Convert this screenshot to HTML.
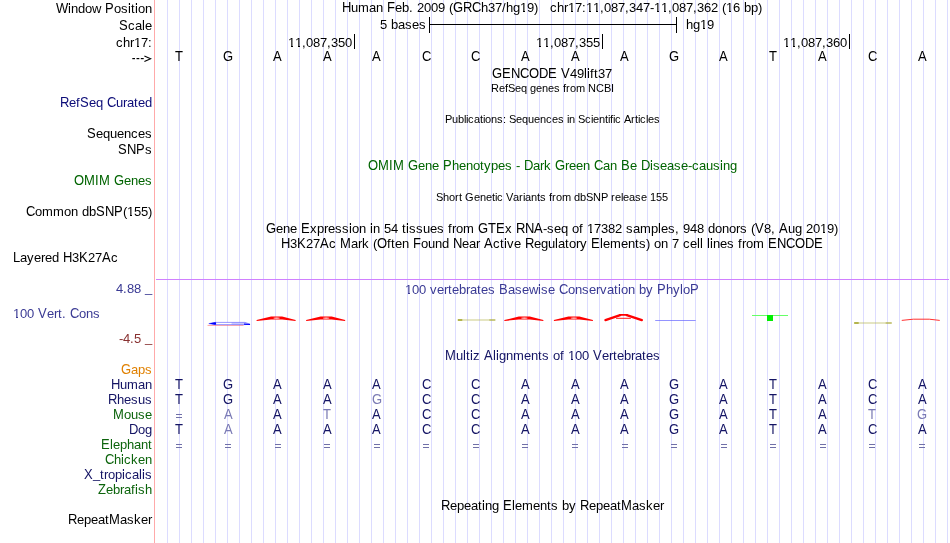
<!DOCTYPE html>
<html><head><meta charset="utf-8"><style>
html,body{margin:0;padding:0;background:#fff;width:950px;height:543px;overflow:hidden}
.t{position:absolute;font-family:"Liberation Sans",sans-serif;white-space:pre;width:0;height:15px}
.t i{position:absolute;top:0;font-style:normal}
.t i.u{font-size:14px;transform:scaleX(0.928571);transform-origin:0 0}
.t i.e{top:-1px;clip-path:inset(0 0 11px 0)}
.t i.o{clip-path:polygon(-2px -2px,12px -2px,12px 11px,5px 11px,5px 16px,3px 16px,3px 11px,-2px 11px)}
</style></head><body>
<div style="position:absolute;left:167px;top:0;width:1px;height:543px;background:#dcdcff"></div><div style="position:absolute;left:179px;top:0;width:1px;height:543px;background:#dcdcff"></div><div style="position:absolute;left:191px;top:0;width:1px;height:543px;background:#dcdcff"></div><div style="position:absolute;left:203px;top:0;width:1px;height:543px;background:#dcdcff"></div><div style="position:absolute;left:215px;top:0;width:1px;height:543px;background:#dcdcff"></div><div style="position:absolute;left:227px;top:0;width:1px;height:543px;background:#dcdcff"></div><div style="position:absolute;left:239px;top:0;width:1px;height:543px;background:#dcdcff"></div><div style="position:absolute;left:251px;top:0;width:1px;height:543px;background:#dcdcff"></div><div style="position:absolute;left:263px;top:0;width:1px;height:543px;background:#dcdcff"></div><div style="position:absolute;left:275px;top:0;width:1px;height:543px;background:#dcdcff"></div><div style="position:absolute;left:287px;top:0;width:1px;height:543px;background:#dcdcff"></div><div style="position:absolute;left:299px;top:0;width:1px;height:543px;background:#dcdcff"></div><div style="position:absolute;left:311px;top:0;width:1px;height:543px;background:#dcdcff"></div><div style="position:absolute;left:323px;top:0;width:1px;height:543px;background:#dcdcff"></div><div style="position:absolute;left:335px;top:0;width:1px;height:543px;background:#dcdcff"></div><div style="position:absolute;left:347px;top:0;width:1px;height:543px;background:#dcdcff"></div><div style="position:absolute;left:359px;top:0;width:1px;height:543px;background:#dcdcff"></div><div style="position:absolute;left:371px;top:0;width:1px;height:543px;background:#dcdcff"></div><div style="position:absolute;left:383px;top:0;width:1px;height:543px;background:#dcdcff"></div><div style="position:absolute;left:395px;top:0;width:1px;height:543px;background:#dcdcff"></div><div style="position:absolute;left:407px;top:0;width:1px;height:543px;background:#dcdcff"></div><div style="position:absolute;left:419px;top:0;width:1px;height:543px;background:#dcdcff"></div><div style="position:absolute;left:431px;top:0;width:1px;height:543px;background:#dcdcff"></div><div style="position:absolute;left:443px;top:0;width:1px;height:543px;background:#dcdcff"></div><div style="position:absolute;left:455px;top:0;width:1px;height:543px;background:#dcdcff"></div><div style="position:absolute;left:467px;top:0;width:1px;height:543px;background:#dcdcff"></div><div style="position:absolute;left:479px;top:0;width:1px;height:543px;background:#dcdcff"></div><div style="position:absolute;left:491px;top:0;width:1px;height:543px;background:#dcdcff"></div><div style="position:absolute;left:503px;top:0;width:1px;height:543px;background:#dcdcff"></div><div style="position:absolute;left:515px;top:0;width:1px;height:543px;background:#dcdcff"></div><div style="position:absolute;left:527px;top:0;width:1px;height:543px;background:#dcdcff"></div><div style="position:absolute;left:539px;top:0;width:1px;height:543px;background:#dcdcff"></div><div style="position:absolute;left:551px;top:0;width:1px;height:543px;background:#dcdcff"></div><div style="position:absolute;left:563px;top:0;width:1px;height:543px;background:#dcdcff"></div><div style="position:absolute;left:575px;top:0;width:1px;height:543px;background:#dcdcff"></div><div style="position:absolute;left:587px;top:0;width:1px;height:543px;background:#dcdcff"></div><div style="position:absolute;left:599px;top:0;width:1px;height:543px;background:#dcdcff"></div><div style="position:absolute;left:611px;top:0;width:1px;height:543px;background:#dcdcff"></div><div style="position:absolute;left:623px;top:0;width:1px;height:543px;background:#dcdcff"></div><div style="position:absolute;left:635px;top:0;width:1px;height:543px;background:#dcdcff"></div><div style="position:absolute;left:647px;top:0;width:1px;height:543px;background:#dcdcff"></div><div style="position:absolute;left:659px;top:0;width:1px;height:543px;background:#dcdcff"></div><div style="position:absolute;left:671px;top:0;width:1px;height:543px;background:#dcdcff"></div><div style="position:absolute;left:683px;top:0;width:1px;height:543px;background:#dcdcff"></div><div style="position:absolute;left:695px;top:0;width:1px;height:543px;background:#dcdcff"></div><div style="position:absolute;left:707px;top:0;width:1px;height:543px;background:#dcdcff"></div><div style="position:absolute;left:719px;top:0;width:1px;height:543px;background:#dcdcff"></div><div style="position:absolute;left:731px;top:0;width:1px;height:543px;background:#dcdcff"></div><div style="position:absolute;left:743px;top:0;width:1px;height:543px;background:#dcdcff"></div><div style="position:absolute;left:755px;top:0;width:1px;height:543px;background:#dcdcff"></div><div style="position:absolute;left:767px;top:0;width:1px;height:543px;background:#dcdcff"></div><div style="position:absolute;left:779px;top:0;width:1px;height:543px;background:#dcdcff"></div><div style="position:absolute;left:791px;top:0;width:1px;height:543px;background:#dcdcff"></div><div style="position:absolute;left:803px;top:0;width:1px;height:543px;background:#dcdcff"></div><div style="position:absolute;left:815px;top:0;width:1px;height:543px;background:#dcdcff"></div><div style="position:absolute;left:827px;top:0;width:1px;height:543px;background:#dcdcff"></div><div style="position:absolute;left:839px;top:0;width:1px;height:543px;background:#dcdcff"></div><div style="position:absolute;left:851px;top:0;width:1px;height:543px;background:#dcdcff"></div><div style="position:absolute;left:863px;top:0;width:1px;height:543px;background:#dcdcff"></div><div style="position:absolute;left:875px;top:0;width:1px;height:543px;background:#dcdcff"></div><div style="position:absolute;left:887px;top:0;width:1px;height:543px;background:#dcdcff"></div><div style="position:absolute;left:899px;top:0;width:1px;height:543px;background:#dcdcff"></div><div style="position:absolute;left:911px;top:0;width:1px;height:543px;background:#dcdcff"></div><div style="position:absolute;left:923px;top:0;width:1px;height:543px;background:#dcdcff"></div><div style="position:absolute;left:935px;top:0;width:1px;height:543px;background:#dcdcff"></div><div style="position:absolute;left:947px;top:0;width:1px;height:543px;background:#dcdcff"></div>
<div style="position:absolute;left:154px;top:0;width:1px;height:543px;background:#ffaaaa"></div>
<div style="position:absolute;left:0;top:0;width:950px;height:543px;will-change:transform">
<svg style="position:absolute;left:0;top:0" width="950" height="543"><line x1="156" y1="279.5" x2="949" y2="279.5" stroke="#d080ff" stroke-width="1"/><g stroke="#000" fill="none"><g stroke-width="1.2"><line x1="132.3" y1="58.6" x2="135" y2="58.6"/><line x1="136.5" y1="58.6" x2="139.3" y2="58.6"/><line x1="140.8" y1="58.6" x2="143.7" y2="58.6"/></g><polyline stroke-width="1.1" points="144.4,56.1 150.6,58.8 144.4,61.6"/></g><polygon points="256.6,320.1 271.1,316.6 282.1,316.6 295.6,320.1 295.6,321 282.1,319.4 271.1,319.4 256.6,321" fill="#f00"/><ellipse cx="276.6" cy="318.1" rx="3.4" ry="0.6" fill="#fff" fill-opacity="0.9"/><polygon points="306.15,320.1 320.65,316.6 331.65,316.6 345.15,320.1 345.15,321 331.65,319.4 320.65,319.4 306.15,321" fill="#f00"/><ellipse cx="326.15" cy="318.1" rx="3.4" ry="0.6" fill="#fff" fill-opacity="0.9"/><polygon points="504.3499999999999,320.1 518.8499999999999,316.6 529.8499999999999,316.6 543.3499999999999,320.1 543.3499999999999,321 529.8499999999999,319.4 518.8499999999999,319.4 504.3499999999999,321" fill="#f00"/><ellipse cx="524.3499999999999" cy="318.1" rx="3.4" ry="0.6" fill="#fff" fill-opacity="0.9"/><polygon points="553.9,320.1 568.4,316.6 579.4,316.6 592.9,320.1 592.9,321 579.4,319.4 568.4,319.4 553.9,321" fill="#f00"/><ellipse cx="573.9" cy="318.1" rx="3.4" ry="0.6" fill="#fff" fill-opacity="0.9"/><g stroke="#f00" stroke-linecap="round"><line x1="605.45" y1="320.1" x2="620.1500000000001" y2="315.1" stroke-width="2.3"/><line x1="626.75" y1="315.1" x2="641.85" y2="320.1" stroke-width="2.3"/><line x1="619.95" y1="314.9" x2="626.95" y2="314.9" stroke-width="1.8"/><line x1="616.45" y1="318.3" x2="630.45" y2="318.3" stroke-width="0.9"/></g><line x1="207.55" y1="325.4" x2="243.55" y2="325.4" stroke="#ff6060" stroke-opacity="0.6" stroke-width="1"/><polygon points="208.85000000000002,323.6 215.05,322.4 245.05,322.4 249.95000000000002,324.2 245.05,324.6 215.05,324.6" fill="#c8c8ff" stroke="#6a6aff" stroke-width="0.7"/><rect x="215.55" y="322.9" width="16" height="1.2" fill="#fff"/><polygon points="208.65,323.6 215.05,322.2 216.05,322.4 216.05,324.4 215.05,324.8" fill="#0000ff"/><polygon points="244.05,323.5 250.05,324.0 250.05,325.0 244.05,324.8" fill="#0000ff"/><line x1="457.79999999999995" y1="320" x2="495.29999999999995" y2="320" stroke="#b4b450" stroke-opacity="0.35" stroke-width="1.8"/><line x1="457.79999999999995" y1="320" x2="462.29999999999995" y2="320" stroke="#a0a020" stroke-opacity="0.8" stroke-width="1.8"/><line x1="489.29999999999995" y1="320" x2="495.29999999999995" y2="320" stroke="#a8a838" stroke-opacity="0.6" stroke-width="1.6"/><line x1="854.1999999999999" y1="323" x2="891.6999999999999" y2="323" stroke="#b4b450" stroke-opacity="0.35" stroke-width="1.8"/><line x1="854.1999999999999" y1="323" x2="858.6999999999999" y2="323" stroke="#a0a020" stroke-opacity="0.8" stroke-width="1.8"/><line x1="885.6999999999999" y1="323" x2="891.6999999999999" y2="323" stroke="#a8a838" stroke-opacity="0.6" stroke-width="1.6"/><line x1="655.2" y1="320.5" x2="695.7" y2="320.5" stroke="#6060ff" stroke-opacity="0.75" stroke-width="0.9"/><line x1="752" y1="315.5" x2="788" y2="315.5" stroke="#66ff66" stroke-width="1"/><rect x="767" y="315" width="6" height="6" fill="#00ee00"/><polyline points="901.75,320.4 913.25,319.2 929.25,319.2 939.75,320.4" fill="none" stroke="#ff3030" stroke-width="1"/></svg>
<div class="t" style="left:56px;top:1px;font-size:13px;line-height:15px;color:#000"><i class="u" style="left:0px">W</i><i style="left:12px">i</i><i class="e" style="left:12px">i</i><i style="left:15px">n</i><i style="left:22px">d</i><i class="e" style="left:22px">d</i><i style="left:29px">o</i><i style="left:36px">w</i><i class="u" style="left:49px">P</i><i style="left:58px">o</i><i style="left:65px">s</i><i style="left:72px">i</i><i class="e" style="left:72px">i</i><i style="left:75px">t</i><i style="left:79px">i</i><i class="e" style="left:79px">i</i><i style="left:82px">o</i><i style="left:89px">n</i></div><div class="t" style="left:119px;top:18px;font-size:13px;line-height:15px;color:#000"><i class="u" style="left:0px">S</i><i style="left:9px">c</i><i style="left:16px">a</i><i style="left:23px">l</i><i class="e" style="left:23px">l</i><i style="left:26px">e</i></div><div class="t" style="left:116px;top:35px;font-size:13px;line-height:15px;color:#000"><i style="left:0px">c</i><i style="left:7px">h</i><i class="e" style="left:7px">h</i><i style="left:14px">r</i><i class="o" style="left:18px">1</i><i style="left:25px">7</i><i style="left:32px">:</i></div><div class="t" style="left:60px;top:95px;font-size:13px;line-height:15px;color:#0c0c78"><i class="u" style="left:0px">R</i><i style="left:9px">e</i><i style="left:16px">f</i><i class="u" style="left:20px">S</i><i style="left:29px">e</i><i style="left:36px">q</i><i class="u" style="left:47px">C</i><i style="left:56px">u</i><i style="left:63px">r</i><i style="left:67px">a</i><i style="left:74px">t</i><i style="left:78px">e</i><i style="left:85px">d</i><i class="e" style="left:85px">d</i></div><div class="t" style="left:87px;top:126px;font-size:13px;line-height:15px;color:#000"><i class="u" style="left:0px">S</i><i style="left:9px">e</i><i style="left:16px">q</i><i style="left:23px">u</i><i style="left:30px">e</i><i style="left:37px">n</i><i style="left:44px">c</i><i style="left:51px">e</i><i style="left:58px">s</i></div><div class="t" style="left:118px;top:142px;font-size:13px;line-height:15px;color:#000"><i class="u" style="left:0px">S</i><i class="u" style="left:9px">N</i><i class="u" style="left:18px">P</i><i style="left:27px">s</i></div><div class="t" style="left:74px;top:173px;font-size:13px;line-height:15px;color:#006400"><i class="u" style="left:0px">O</i><i class="u" style="left:10px">M</i><i class="u" style="left:21px">I</i><i class="u" style="left:25px">M</i><i class="u" style="left:40px">G</i><i style="left:50px">e</i><i style="left:57px">n</i><i style="left:64px">e</i><i style="left:71px">s</i></div><div class="t" style="left:26px;top:204px;font-size:13px;line-height:15px;color:#000"><i class="u" style="left:0px">C</i><i style="left:9px">o</i><i style="left:16px">m</i><i style="left:27px">m</i><i style="left:38px">o</i><i style="left:45px">n</i><i style="left:56px">d</i><i class="e" style="left:56px">d</i><i style="left:63px">b</i><i class="e" style="left:63px">b</i><i class="u" style="left:70px">S</i><i class="u" style="left:79px">N</i><i class="u" style="left:88px">P</i><i style="left:97px">(</i><i class="o" style="left:101px">1</i><i style="left:108px">5</i><i style="left:115px">5</i><i style="left:122px">)</i></div><div class="t" style="left:13px;top:250px;font-size:13px;line-height:15px;color:#000"><i class="u" style="left:0px">L</i><i style="left:7px">a</i><i style="left:14px">y</i><i style="left:21px">e</i><i style="left:28px">r</i><i style="left:32px">e</i><i style="left:39px">d</i><i class="e" style="left:39px">d</i><i class="u" style="left:50px">H</i><i style="left:59px">3</i><i class="u" style="left:66px">K</i><i style="left:75px">2</i><i style="left:82px">7</i><i class="u" style="left:89px">A</i><i style="left:98px">c</i></div><div class="t" style="left:116px;top:281px;font-size:13px;line-height:15px;color:#3a3a94"><i style="left:0px">4</i><i style="left:7px">.</i><i style="left:11px">8</i><i style="left:18px">8</i><i style="left:29px;top:-1px">_</i></div><div class="t" style="left:13px;top:306px;font-size:13px;line-height:15px;color:#3a3a94"><i class="o" style="left:0px">1</i><i style="left:7px">0</i><i style="left:14px">0</i><i class="u" style="left:25px">V</i><i style="left:34px">e</i><i style="left:41px">r</i><i style="left:45px">t</i><i style="left:49px">.</i><i class="u" style="left:57px">C</i><i style="left:66px">o</i><i style="left:73px">n</i><i style="left:80px">s</i></div><div class="t" style="left:119px;top:331px;font-size:13px;line-height:15px;color:#883030"><i style="left:0px">-</i><i style="left:4px">4</i><i style="left:11px">.</i><i style="left:15px">5</i><i style="left:26px;top:-1px">_</i></div><div class="t" style="left:121px;top:362px;font-size:13px;line-height:15px;color:#e08000"><i class="u" style="left:0px">G</i><i style="left:10px">a</i><i style="left:17px">p</i><i style="left:24px">s</i></div><div class="t" style="left:111px;top:377px;font-size:13px;line-height:15px;color:#141464"><i class="u" style="left:0px">H</i><i style="left:9px">u</i><i style="left:16px">m</i><i style="left:27px">a</i><i style="left:34px">n</i></div><div class="t" style="left:108px;top:392px;font-size:13px;line-height:15px;color:#141464"><i class="u" style="left:0px">R</i><i style="left:9px">h</i><i class="e" style="left:9px">h</i><i style="left:16px">e</i><i style="left:23px">s</i><i style="left:30px">u</i><i style="left:37px">s</i></div><div class="t" style="left:113px;top:407px;font-size:13px;line-height:15px;color:#0c640c"><i class="u" style="left:0px">M</i><i style="left:11px">o</i><i style="left:18px">u</i><i style="left:25px">s</i><i style="left:32px">e</i></div><div class="t" style="left:129px;top:422px;font-size:13px;line-height:15px;color:#141464"><i class="u" style="left:0px">D</i><i style="left:9px">o</i><i style="left:16px">g</i></div><div class="t" style="left:101px;top:437px;font-size:13px;line-height:15px;color:#0c640c"><i class="u" style="left:0px">E</i><i style="left:9px">l</i><i class="e" style="left:9px">l</i><i style="left:12px">e</i><i style="left:19px">p</i><i style="left:26px">h</i><i class="e" style="left:26px">h</i><i style="left:33px">a</i><i style="left:40px">n</i><i style="left:47px">t</i></div><div class="t" style="left:105px;top:452px;font-size:13px;line-height:15px;color:#0c640c"><i class="u" style="left:0px">C</i><i style="left:9px">h</i><i class="e" style="left:9px">h</i><i style="left:16px">i</i><i class="e" style="left:16px">i</i><i style="left:19px">c</i><i style="left:26px">k</i><i class="e" style="left:26px">k</i><i style="left:33px">e</i><i style="left:40px">n</i></div><div class="t" style="left:84px;top:467px;font-size:13px;line-height:15px;color:#141464"><i class="u" style="left:0px">X</i><i style="left:9px;top:-1px">_</i><i style="left:16px">t</i><i style="left:20px">r</i><i style="left:24px">o</i><i style="left:31px">p</i><i style="left:38px">i</i><i class="e" style="left:38px">i</i><i style="left:41px">c</i><i style="left:48px">a</i><i style="left:55px">l</i><i class="e" style="left:55px">l</i><i style="left:58px">i</i><i class="e" style="left:58px">i</i><i style="left:61px">s</i></div><div class="t" style="left:98px;top:482px;font-size:13px;line-height:15px;color:#0c640c"><i class="u" style="left:0px">Z</i><i style="left:8px">e</i><i style="left:15px">b</i><i class="e" style="left:15px">b</i><i style="left:22px">r</i><i style="left:26px">a</i><i style="left:33px">f</i><i style="left:37px">i</i><i class="e" style="left:37px">i</i><i style="left:40px">s</i><i style="left:47px">h</i><i class="e" style="left:47px">h</i></div><div class="t" style="left:68px;top:512px;font-size:13px;line-height:15px;color:#000"><i class="u" style="left:0px">R</i><i style="left:9px">e</i><i style="left:16px">p</i><i style="left:23px">e</i><i style="left:30px">a</i><i style="left:37px">t</i><i class="u" style="left:41px">M</i><i style="left:52px">a</i><i style="left:59px">s</i><i style="left:66px">k</i><i class="e" style="left:66px">k</i><i style="left:73px">e</i><i style="left:80px">r</i></div><div class="t" style="left:342px;top:0px;font-size:13px;line-height:15px;color:#000"><i class="u" style="left:0px">H</i><i style="left:9px">u</i><i style="left:16px">m</i><i style="left:27px">a</i><i style="left:34px">n</i><i class="u" style="left:45px">F</i><i style="left:53px">e</i><i style="left:60px">b</i><i class="e" style="left:60px">b</i><i style="left:67px">.</i><i style="left:75px">2</i><i style="left:82px">0</i><i style="left:89px">0</i><i style="left:96px">9</i><i style="left:107px">(</i><i class="u" style="left:111px">G</i><i class="u" style="left:121px">R</i><i class="u" style="left:130px">C</i><i style="left:139px">h</i><i class="e" style="left:139px">h</i><i style="left:146px">3</i><i style="left:153px">7</i><i style="left:160px">/</i><i style="left:164px">h</i><i class="e" style="left:164px">h</i><i style="left:171px">g</i><i class="o" style="left:178px">1</i><i style="left:185px">9</i><i style="left:192px">)</i><i style="left:208px">c</i><i style="left:215px">h</i><i class="e" style="left:215px">h</i><i style="left:222px">r</i><i class="o" style="left:226px">1</i><i style="left:233px">7</i><i style="left:240px">:</i><i class="o" style="left:244px">1</i><i class="o" style="left:251px">1</i><i style="left:258px">,</i><i style="left:262px">0</i><i style="left:269px">8</i><i style="left:276px">7</i><i style="left:283px">,</i><i style="left:287px">3</i><i style="left:294px">4</i><i style="left:301px">7</i><i style="left:308px">-</i><i class="o" style="left:312px">1</i><i class="o" style="left:319px">1</i><i style="left:326px">,</i><i style="left:330px">0</i><i style="left:337px">8</i><i style="left:344px">7</i><i style="left:351px">,</i><i style="left:355px">3</i><i style="left:362px">6</i><i style="left:369px">2</i><i style="left:380px">(</i><i class="o" style="left:384px">1</i><i style="left:391px">6</i><i style="left:402px">b</i><i class="e" style="left:402px">b</i><i style="left:409px">p</i><i style="left:416px">)</i></div><div class="t" style="left:492px;top:66px;font-size:13px;line-height:15px;color:#000"><i class="u" style="left:0px">G</i><i class="u" style="left:10px">E</i><i class="u" style="left:19px">N</i><i class="u" style="left:28px">C</i><i class="u" style="left:37px">O</i><i class="u" style="left:47px">D</i><i class="u" style="left:56px">E</i><i class="u" style="left:69px">V</i><i style="left:78px">4</i><i style="left:85px">9</i><i style="left:92px">l</i><i class="e" style="left:92px">l</i><i style="left:95px">i</i><i class="e" style="left:95px">i</i><i style="left:98px">f</i><i style="left:102px">t</i><i style="left:106px">3</i><i style="left:113px">7</i></div><div class="t" style="left:491px;top:82px;font-size:11px;line-height:13px;color:#000"><i style="left:0px">R</i><i style="left:8px">e</i><i style="left:14px">f</i><i style="left:17px">S</i><i style="left:24px">e</i><i style="left:30px">q</i><i style="left:39px">g</i><i style="left:45px">e</i><i style="left:51px">n</i><i style="left:57px">e</i><i style="left:63px">s</i><i style="left:72px">f</i><i style="left:75px">r</i><i style="left:79px">o</i><i style="left:85px">m</i><i style="left:97px">N</i><i style="left:105px">C</i><i style="left:113px">B</i><i style="left:120px">I</i></div><div class="t" style="left:445px;top:113px;font-size:11px;line-height:13px;color:#000"><i style="left:0px">P</i><i style="left:7px">u</i><i style="left:13px">b</i><i style="left:19px">l</i><i style="left:21px">i</i><i style="left:23px">c</i><i style="left:29px">a</i><i style="left:35px">t</i><i style="left:38px">i</i><i style="left:40px">o</i><i style="left:46px">n</i><i style="left:52px">s</i><i style="left:58px">:</i><i style="left:64px">S</i><i style="left:71px">e</i><i style="left:77px">q</i><i style="left:83px">u</i><i style="left:89px">e</i><i style="left:95px">n</i><i style="left:101px">c</i><i style="left:107px">e</i><i style="left:113px">s</i><i style="left:122px">i</i><i style="left:124px">n</i><i style="left:133px">S</i><i style="left:140px">c</i><i style="left:146px">i</i><i style="left:148px">e</i><i style="left:154px">n</i><i style="left:160px">t</i><i style="left:163px">i</i><i style="left:165px">f</i><i style="left:168px">i</i><i style="left:170px">c</i><i style="left:179px">A</i><i style="left:186px">r</i><i style="left:190px">t</i><i style="left:193px">i</i><i style="left:195px">c</i><i style="left:201px">l</i><i style="left:203px">e</i><i style="left:209px">s</i></div><div class="t" style="left:368px;top:158px;font-size:13px;line-height:15px;color:#006400"><i class="u" style="left:0px">O</i><i class="u" style="left:10px">M</i><i class="u" style="left:21px">I</i><i class="u" style="left:25px">M</i><i class="u" style="left:40px">G</i><i style="left:50px">e</i><i style="left:57px">n</i><i style="left:64px">e</i><i class="u" style="left:75px">P</i><i style="left:84px">h</i><i class="e" style="left:84px">h</i><i style="left:91px">e</i><i style="left:98px">n</i><i style="left:105px">o</i><i style="left:112px">t</i><i style="left:116px">y</i><i style="left:123px">p</i><i style="left:130px">e</i><i style="left:137px">s</i><i style="left:148px">-</i><i class="u" style="left:156px">D</i><i style="left:165px">a</i><i style="left:172px">r</i><i style="left:176px">k</i><i class="e" style="left:176px">k</i><i class="u" style="left:187px">G</i><i style="left:197px">r</i><i style="left:201px">e</i><i style="left:208px">e</i><i style="left:215px">n</i><i class="u" style="left:226px">C</i><i style="left:235px">a</i><i style="left:242px">n</i><i class="u" style="left:253px">B</i><i style="left:262px">e</i><i class="u" style="left:273px">D</i><i style="left:282px">i</i><i class="e" style="left:282px">i</i><i style="left:285px">s</i><i style="left:292px">e</i><i style="left:299px">a</i><i style="left:306px">s</i><i style="left:313px">e</i><i style="left:320px">-</i><i style="left:324px">c</i><i style="left:331px">a</i><i style="left:338px">u</i><i style="left:345px">s</i><i style="left:352px">i</i><i class="e" style="left:352px">i</i><i style="left:355px">n</i><i style="left:362px">g</i></div><div class="t" style="left:436px;top:191px;font-size:11px;line-height:13px;color:#000"><i style="left:0px">S</i><i style="left:7px">h</i><i style="left:13px">o</i><i style="left:19px">r</i><i style="left:23px">t</i><i style="left:29px">G</i><i style="left:38px">e</i><i style="left:44px">n</i><i style="left:50px">e</i><i style="left:56px">t</i><i style="left:59px">i</i><i style="left:61px">c</i><i style="left:70px">V</i><i style="left:77px">a</i><i style="left:83px">r</i><i style="left:87px">i</i><i style="left:89px">a</i><i style="left:95px">n</i><i style="left:101px">t</i><i style="left:104px">s</i><i style="left:113px">f</i><i style="left:116px">r</i><i style="left:120px">o</i><i style="left:126px">m</i><i style="left:138px">d</i><i style="left:144px">b</i><i style="left:150px">S</i><i style="left:157px">N</i><i style="left:165px">P</i><i style="left:175px">r</i><i style="left:179px">e</i><i style="left:185px">l</i><i style="left:187px">e</i><i style="left:193px">a</i><i style="left:199px">s</i><i style="left:205px">e</i><i style="left:214px">1</i><i style="left:220px">5</i><i style="left:226px">5</i></div><div class="t" style="left:266px;top:221px;font-size:13px;line-height:15px;color:#000"><i class="u" style="left:0px">G</i><i style="left:10px">e</i><i style="left:17px">n</i><i style="left:24px">e</i><i class="u" style="left:35px">E</i><i style="left:44px">x</i><i style="left:51px">p</i><i style="left:58px">r</i><i style="left:62px">e</i><i style="left:69px">s</i><i style="left:76px">s</i><i style="left:83px">i</i><i class="e" style="left:83px">i</i><i style="left:86px">o</i><i style="left:93px">n</i><i style="left:104px">i</i><i class="e" style="left:104px">i</i><i style="left:107px">n</i><i style="left:118px">5</i><i style="left:125px">4</i><i style="left:136px">t</i><i style="left:140px">i</i><i class="e" style="left:140px">i</i><i style="left:143px">s</i><i style="left:150px">s</i><i style="left:157px">u</i><i style="left:164px">e</i><i style="left:171px">s</i><i style="left:182px">f</i><i style="left:186px">r</i><i style="left:190px">o</i><i style="left:197px">m</i><i class="u" style="left:212px">G</i><i class="u" style="left:222px">T</i><i class="u" style="left:230px">E</i><i style="left:239px">x</i><i class="u" style="left:250px">R</i><i class="u" style="left:259px">N</i><i class="u" style="left:268px">A</i><i style="left:277px">-</i><i style="left:281px">s</i><i style="left:288px">e</i><i style="left:295px">q</i><i style="left:306px">o</i><i style="left:313px">f</i><i class="o" style="left:321px">1</i><i style="left:328px">7</i><i style="left:335px">3</i><i style="left:342px">8</i><i style="left:349px">2</i><i style="left:360px">s</i><i style="left:367px">a</i><i style="left:374px">m</i><i style="left:385px">p</i><i style="left:392px">l</i><i class="e" style="left:392px">l</i><i style="left:395px">e</i><i style="left:402px">s</i><i style="left:409px">,</i><i style="left:417px">9</i><i style="left:424px">4</i><i style="left:431px">8</i><i style="left:442px">d</i><i class="e" style="left:442px">d</i><i style="left:449px">o</i><i style="left:456px">n</i><i style="left:463px">o</i><i style="left:470px">r</i><i style="left:474px">s</i><i style="left:485px">(</i><i class="u" style="left:489px">V</i><i style="left:498px">8</i><i style="left:505px">,</i><i class="u" style="left:513px">A</i><i style="left:522px">u</i><i style="left:529px">g</i><i style="left:540px">2</i><i style="left:547px">0</i><i class="o" style="left:554px">1</i><i style="left:561px">9</i><i style="left:568px">)</i></div><div class="t" style="left:281px;top:236px;font-size:13px;line-height:15px;color:#000"><i class="u" style="left:0px">H</i><i style="left:9px">3</i><i class="u" style="left:16px">K</i><i style="left:25px">2</i><i style="left:32px">7</i><i class="u" style="left:39px">A</i><i style="left:48px">c</i><i class="u" style="left:59px">M</i><i style="left:70px">a</i><i style="left:77px">r</i><i style="left:81px">k</i><i class="e" style="left:81px">k</i><i style="left:92px">(</i><i class="u" style="left:96px">O</i><i style="left:106px">f</i><i style="left:110px">t</i><i style="left:114px">e</i><i style="left:121px">n</i><i class="u" style="left:132px">F</i><i style="left:140px">o</i><i style="left:147px">u</i><i style="left:154px">n</i><i style="left:161px">d</i><i class="e" style="left:161px">d</i><i class="u" style="left:172px">N</i><i style="left:181px">e</i><i style="left:188px">a</i><i style="left:195px">r</i><i class="u" style="left:203px">A</i><i style="left:212px">c</i><i style="left:219px">t</i><i style="left:223px">i</i><i class="e" style="left:223px">i</i><i style="left:226px">v</i><i style="left:233px">e</i><i class="u" style="left:244px">R</i><i style="left:253px">e</i><i style="left:260px">g</i><i style="left:267px">u</i><i style="left:274px">l</i><i class="e" style="left:274px">l</i><i style="left:277px">a</i><i style="left:284px">t</i><i style="left:288px">o</i><i style="left:295px">r</i><i style="left:299px">y</i><i class="u" style="left:310px">E</i><i style="left:319px">l</i><i class="e" style="left:319px">l</i><i style="left:322px">e</i><i style="left:329px">m</i><i style="left:340px">e</i><i style="left:347px">n</i><i style="left:354px">t</i><i style="left:358px">s</i><i style="left:365px">)</i><i style="left:373px">o</i><i style="left:380px">n</i><i style="left:391px">7</i><i style="left:402px">c</i><i style="left:409px">e</i><i style="left:416px">l</i><i class="e" style="left:416px">l</i><i style="left:419px">l</i><i class="e" style="left:419px">l</i><i style="left:426px">l</i><i class="e" style="left:426px">l</i><i style="left:429px">i</i><i class="e" style="left:429px">i</i><i style="left:432px">n</i><i style="left:439px">e</i><i style="left:446px">s</i><i style="left:457px">f</i><i style="left:461px">r</i><i style="left:465px">o</i><i style="left:472px">m</i><i class="u" style="left:487px">E</i><i class="u" style="left:496px">N</i><i class="u" style="left:505px">C</i><i class="u" style="left:514px">O</i><i class="u" style="left:524px">D</i><i class="u" style="left:533px">E</i></div><div class="t" style="left:405px;top:282px;font-size:13px;line-height:15px;color:#3a3a94"><i class="o" style="left:0px">1</i><i style="left:7px">0</i><i style="left:14px">0</i><i style="left:25px">v</i><i style="left:32px">e</i><i style="left:39px">r</i><i style="left:43px">t</i><i style="left:47px">e</i><i style="left:54px">b</i><i class="e" style="left:54px">b</i><i style="left:61px">r</i><i style="left:65px">a</i><i style="left:72px">t</i><i style="left:76px">e</i><i style="left:83px">s</i><i class="u" style="left:94px">B</i><i style="left:103px">a</i><i style="left:110px">s</i><i style="left:117px">e</i><i style="left:124px">w</i><i style="left:133px">i</i><i class="e" style="left:133px">i</i><i style="left:136px">s</i><i style="left:143px">e</i><i class="u" style="left:154px">C</i><i style="left:163px">o</i><i style="left:170px">n</i><i style="left:177px">s</i><i style="left:184px">e</i><i style="left:191px">r</i><i style="left:195px">v</i><i style="left:202px">a</i><i style="left:209px">t</i><i style="left:213px">i</i><i class="e" style="left:213px">i</i><i style="left:216px">o</i><i style="left:223px">n</i><i style="left:234px">b</i><i class="e" style="left:234px">b</i><i style="left:241px">y</i><i class="u" style="left:252px">P</i><i style="left:261px">h</i><i class="e" style="left:261px">h</i><i style="left:268px">y</i><i style="left:275px">l</i><i class="e" style="left:275px">l</i><i style="left:278px">o</i><i class="u" style="left:285px">P</i></div><div class="t" style="left:445px;top:348px;font-size:13px;line-height:15px;color:#141464"><i class="u" style="left:0px">M</i><i style="left:11px">u</i><i style="left:18px">l</i><i class="e" style="left:18px">l</i><i style="left:21px">t</i><i style="left:25px">i</i><i class="e" style="left:25px">i</i><i style="left:28px">z</i><i class="u" style="left:39px">A</i><i style="left:48px">l</i><i class="e" style="left:48px">l</i><i style="left:51px">i</i><i class="e" style="left:51px">i</i><i style="left:54px">g</i><i style="left:61px">n</i><i style="left:68px">m</i><i style="left:79px">e</i><i style="left:86px">n</i><i style="left:93px">t</i><i style="left:97px">s</i><i style="left:108px">o</i><i style="left:115px">f</i><i class="o" style="left:123px">1</i><i style="left:130px">0</i><i style="left:137px">0</i><i class="u" style="left:148px">V</i><i style="left:157px">e</i><i style="left:164px">r</i><i style="left:168px">t</i><i style="left:172px">e</i><i style="left:179px">b</i><i class="e" style="left:179px">b</i><i style="left:186px">r</i><i style="left:190px">a</i><i style="left:197px">t</i><i style="left:201px">e</i><i style="left:208px">s</i></div><div class="t" style="left:441px;top:498px;font-size:13px;line-height:15px;color:#000"><i class="u" style="left:0px">R</i><i style="left:9px">e</i><i style="left:16px">p</i><i style="left:23px">e</i><i style="left:30px">a</i><i style="left:37px">t</i><i style="left:41px">i</i><i class="e" style="left:41px">i</i><i style="left:44px">n</i><i style="left:51px">g</i><i class="u" style="left:62px">E</i><i style="left:71px">l</i><i class="e" style="left:71px">l</i><i style="left:74px">e</i><i style="left:81px">m</i><i style="left:92px">e</i><i style="left:99px">n</i><i style="left:106px">t</i><i style="left:110px">s</i><i style="left:121px">b</i><i class="e" style="left:121px">b</i><i style="left:128px">y</i><i class="u" style="left:139px">R</i><i style="left:148px">e</i><i style="left:155px">p</i><i style="left:162px">e</i><i style="left:169px">a</i><i style="left:176px">t</i><i class="u" style="left:180px">M</i><i style="left:191px">a</i><i style="left:198px">s</i><i style="left:205px">k</i><i class="e" style="left:205px">k</i><i style="left:212px">e</i><i style="left:219px">r</i></div><div class="t" style="left:380px;top:17px;font-size:13px;line-height:15px;color:#000"><i style="left:0px">5</i><i style="left:11px">b</i><i class="e" style="left:11px">b</i><i style="left:18px">a</i><i style="left:25px">s</i><i style="left:32px">e</i><i style="left:39px">s</i></div><div class="t" style="left:686px;top:17px;font-size:13px;line-height:15px;color:#000"><i style="left:0px">h</i><i class="e" style="left:0px">h</i><i style="left:7px">g</i><i class="o" style="left:14px">1</i><i style="left:21px">9</i></div><div style="position:absolute;left:429px;top:17px;width:1px;height:16px;background:#000"></div><div style="position:absolute;left:676px;top:17px;width:1px;height:16px;background:#000"></div><div style="position:absolute;left:429px;top:24px;width:248px;height:1px;background:#000"></div><div class="t" style="left:288px;top:35px;font-size:13px;line-height:15px;color:#000"><i class="o" style="left:0px">1</i><i class="o" style="left:7px">1</i><i style="left:14px">,</i><i style="left:18px">0</i><i style="left:25px">8</i><i style="left:32px">7</i><i style="left:39px">,</i><i style="left:43px">3</i><i style="left:50px">5</i><i style="left:57px">0</i></div><div style="position:absolute;left:354px;top:34px;width:1px;height:15px;background:#000"></div><div class="t" style="left:536px;top:35px;font-size:13px;line-height:15px;color:#000"><i class="o" style="left:0px">1</i><i class="o" style="left:7px">1</i><i style="left:14px">,</i><i style="left:18px">0</i><i style="left:25px">8</i><i style="left:32px">7</i><i style="left:39px">,</i><i style="left:43px">3</i><i style="left:50px">5</i><i style="left:57px">5</i></div><div style="position:absolute;left:602px;top:34px;width:1px;height:15px;background:#000"></div><div class="t" style="left:783px;top:35px;font-size:13px;line-height:15px;color:#000"><i class="o" style="left:0px">1</i><i class="o" style="left:7px">1</i><i style="left:14px">,</i><i style="left:18px">0</i><i style="left:25px">8</i><i style="left:32px">7</i><i style="left:39px">,</i><i style="left:43px">3</i><i style="left:50px">6</i><i style="left:57px">0</i></div><div style="position:absolute;left:849px;top:34px;width:1px;height:15px;background:#000"></div><div class="t" style="left:175px;top:49px;font-size:13px;line-height:15px;color:#000"><i class="u" style="left:0px">T</i></div><div class="t" style="left:223px;top:49px;font-size:13px;line-height:15px;color:#000"><i class="u" style="left:0px">G</i></div><div class="t" style="left:273px;top:49px;font-size:13px;line-height:15px;color:#000"><i class="u" style="left:0px">A</i></div><div class="t" style="left:323px;top:49px;font-size:13px;line-height:15px;color:#000"><i class="u" style="left:0px">A</i></div><div class="t" style="left:372px;top:49px;font-size:13px;line-height:15px;color:#000"><i class="u" style="left:0px">A</i></div><div class="t" style="left:422px;top:49px;font-size:13px;line-height:15px;color:#000"><i class="u" style="left:0px">C</i></div><div class="t" style="left:471px;top:49px;font-size:13px;line-height:15px;color:#000"><i class="u" style="left:0px">C</i></div><div class="t" style="left:521px;top:49px;font-size:13px;line-height:15px;color:#000"><i class="u" style="left:0px">A</i></div><div class="t" style="left:571px;top:49px;font-size:13px;line-height:15px;color:#000"><i class="u" style="left:0px">A</i></div><div class="t" style="left:620px;top:49px;font-size:13px;line-height:15px;color:#000"><i class="u" style="left:0px">A</i></div><div class="t" style="left:669px;top:49px;font-size:13px;line-height:15px;color:#000"><i class="u" style="left:0px">G</i></div><div class="t" style="left:719px;top:49px;font-size:13px;line-height:15px;color:#000"><i class="u" style="left:0px">A</i></div><div class="t" style="left:769px;top:49px;font-size:13px;line-height:15px;color:#000"><i class="u" style="left:0px">T</i></div><div class="t" style="left:818px;top:49px;font-size:13px;line-height:15px;color:#000"><i class="u" style="left:0px">A</i></div><div class="t" style="left:868px;top:49px;font-size:13px;line-height:15px;color:#000"><i class="u" style="left:0px">C</i></div><div class="t" style="left:918px;top:49px;font-size:13px;line-height:15px;color:#000"><i class="u" style="left:0px">A</i></div><div class="t" style="left:175px;top:377px;font-size:13px;line-height:15px;color:#141464"><i class="u" style="left:0px">T</i></div><div class="t" style="left:223px;top:377px;font-size:13px;line-height:15px;color:#141464"><i class="u" style="left:0px">G</i></div><div class="t" style="left:273px;top:377px;font-size:13px;line-height:15px;color:#141464"><i class="u" style="left:0px">A</i></div><div class="t" style="left:323px;top:377px;font-size:13px;line-height:15px;color:#141464"><i class="u" style="left:0px">A</i></div><div class="t" style="left:372px;top:377px;font-size:13px;line-height:15px;color:#141464"><i class="u" style="left:0px">A</i></div><div class="t" style="left:422px;top:377px;font-size:13px;line-height:15px;color:#141464"><i class="u" style="left:0px">C</i></div><div class="t" style="left:471px;top:377px;font-size:13px;line-height:15px;color:#141464"><i class="u" style="left:0px">C</i></div><div class="t" style="left:521px;top:377px;font-size:13px;line-height:15px;color:#141464"><i class="u" style="left:0px">A</i></div><div class="t" style="left:571px;top:377px;font-size:13px;line-height:15px;color:#141464"><i class="u" style="left:0px">A</i></div><div class="t" style="left:620px;top:377px;font-size:13px;line-height:15px;color:#141464"><i class="u" style="left:0px">A</i></div><div class="t" style="left:669px;top:377px;font-size:13px;line-height:15px;color:#141464"><i class="u" style="left:0px">G</i></div><div class="t" style="left:719px;top:377px;font-size:13px;line-height:15px;color:#141464"><i class="u" style="left:0px">A</i></div><div class="t" style="left:769px;top:377px;font-size:13px;line-height:15px;color:#141464"><i class="u" style="left:0px">T</i></div><div class="t" style="left:818px;top:377px;font-size:13px;line-height:15px;color:#141464"><i class="u" style="left:0px">A</i></div><div class="t" style="left:868px;top:377px;font-size:13px;line-height:15px;color:#141464"><i class="u" style="left:0px">C</i></div><div class="t" style="left:918px;top:377px;font-size:13px;line-height:15px;color:#141464"><i class="u" style="left:0px">A</i></div><div class="t" style="left:175px;top:392px;font-size:13px;line-height:15px;color:#141464"><i class="u" style="left:0px">T</i></div><div class="t" style="left:223px;top:392px;font-size:13px;line-height:15px;color:#141464"><i class="u" style="left:0px">G</i></div><div class="t" style="left:273px;top:392px;font-size:13px;line-height:15px;color:#141464"><i class="u" style="left:0px">A</i></div><div class="t" style="left:323px;top:392px;font-size:13px;line-height:15px;color:#141464"><i class="u" style="left:0px">A</i></div><div class="t" style="left:372px;top:392px;font-size:13px;line-height:15px;color:#7a7ab4"><i class="u" style="left:0px">G</i></div><div class="t" style="left:422px;top:392px;font-size:13px;line-height:15px;color:#141464"><i class="u" style="left:0px">C</i></div><div class="t" style="left:471px;top:392px;font-size:13px;line-height:15px;color:#141464"><i class="u" style="left:0px">C</i></div><div class="t" style="left:521px;top:392px;font-size:13px;line-height:15px;color:#141464"><i class="u" style="left:0px">A</i></div><div class="t" style="left:571px;top:392px;font-size:13px;line-height:15px;color:#141464"><i class="u" style="left:0px">A</i></div><div class="t" style="left:620px;top:392px;font-size:13px;line-height:15px;color:#141464"><i class="u" style="left:0px">A</i></div><div class="t" style="left:669px;top:392px;font-size:13px;line-height:15px;color:#141464"><i class="u" style="left:0px">G</i></div><div class="t" style="left:719px;top:392px;font-size:13px;line-height:15px;color:#141464"><i class="u" style="left:0px">A</i></div><div class="t" style="left:769px;top:392px;font-size:13px;line-height:15px;color:#141464"><i class="u" style="left:0px">T</i></div><div class="t" style="left:818px;top:392px;font-size:13px;line-height:15px;color:#141464"><i class="u" style="left:0px">A</i></div><div class="t" style="left:868px;top:392px;font-size:13px;line-height:15px;color:#141464"><i class="u" style="left:0px">C</i></div><div class="t" style="left:918px;top:392px;font-size:13px;line-height:15px;color:#141464"><i class="u" style="left:0px">A</i></div><div style="position:absolute;left:176px;top:414px;width:6px;height:1px;background:#7070a8"></div><div style="position:absolute;left:176px;top:417px;width:6px;height:1px;background:#7070a8"></div><div class="t" style="left:224px;top:407px;font-size:13px;line-height:15px;color:#7a7ab4"><i class="u" style="left:0px">A</i></div><div class="t" style="left:273px;top:407px;font-size:13px;line-height:15px;color:#141464"><i class="u" style="left:0px">A</i></div><div class="t" style="left:323px;top:407px;font-size:13px;line-height:15px;color:#7a7ab4"><i class="u" style="left:0px">T</i></div><div class="t" style="left:372px;top:407px;font-size:13px;line-height:15px;color:#141464"><i class="u" style="left:0px">A</i></div><div class="t" style="left:422px;top:407px;font-size:13px;line-height:15px;color:#141464"><i class="u" style="left:0px">C</i></div><div class="t" style="left:471px;top:407px;font-size:13px;line-height:15px;color:#141464"><i class="u" style="left:0px">C</i></div><div class="t" style="left:521px;top:407px;font-size:13px;line-height:15px;color:#141464"><i class="u" style="left:0px">A</i></div><div class="t" style="left:571px;top:407px;font-size:13px;line-height:15px;color:#141464"><i class="u" style="left:0px">A</i></div><div class="t" style="left:620px;top:407px;font-size:13px;line-height:15px;color:#141464"><i class="u" style="left:0px">A</i></div><div class="t" style="left:669px;top:407px;font-size:13px;line-height:15px;color:#141464"><i class="u" style="left:0px">G</i></div><div class="t" style="left:719px;top:407px;font-size:13px;line-height:15px;color:#141464"><i class="u" style="left:0px">A</i></div><div class="t" style="left:769px;top:407px;font-size:13px;line-height:15px;color:#141464"><i class="u" style="left:0px">T</i></div><div class="t" style="left:818px;top:407px;font-size:13px;line-height:15px;color:#141464"><i class="u" style="left:0px">A</i></div><div class="t" style="left:868px;top:407px;font-size:13px;line-height:15px;color:#7a7ab4"><i class="u" style="left:0px">T</i></div><div class="t" style="left:917px;top:407px;font-size:13px;line-height:15px;color:#7a7ab4"><i class="u" style="left:0px">G</i></div><div class="t" style="left:175px;top:422px;font-size:13px;line-height:15px;color:#141464"><i class="u" style="left:0px">T</i></div><div class="t" style="left:224px;top:422px;font-size:13px;line-height:15px;color:#7a7ab4"><i class="u" style="left:0px">A</i></div><div class="t" style="left:273px;top:422px;font-size:13px;line-height:15px;color:#141464"><i class="u" style="left:0px">A</i></div><div class="t" style="left:323px;top:422px;font-size:13px;line-height:15px;color:#141464"><i class="u" style="left:0px">A</i></div><div class="t" style="left:372px;top:422px;font-size:13px;line-height:15px;color:#141464"><i class="u" style="left:0px">A</i></div><div class="t" style="left:422px;top:422px;font-size:13px;line-height:15px;color:#141464"><i class="u" style="left:0px">C</i></div><div class="t" style="left:471px;top:422px;font-size:13px;line-height:15px;color:#141464"><i class="u" style="left:0px">C</i></div><div class="t" style="left:521px;top:422px;font-size:13px;line-height:15px;color:#141464"><i class="u" style="left:0px">A</i></div><div class="t" style="left:571px;top:422px;font-size:13px;line-height:15px;color:#141464"><i class="u" style="left:0px">A</i></div><div class="t" style="left:620px;top:422px;font-size:13px;line-height:15px;color:#141464"><i class="u" style="left:0px">A</i></div><div class="t" style="left:669px;top:422px;font-size:13px;line-height:15px;color:#141464"><i class="u" style="left:0px">G</i></div><div class="t" style="left:719px;top:422px;font-size:13px;line-height:15px;color:#141464"><i class="u" style="left:0px">A</i></div><div class="t" style="left:769px;top:422px;font-size:13px;line-height:15px;color:#141464"><i class="u" style="left:0px">T</i></div><div class="t" style="left:818px;top:422px;font-size:13px;line-height:15px;color:#141464"><i class="u" style="left:0px">A</i></div><div class="t" style="left:868px;top:422px;font-size:13px;line-height:15px;color:#141464"><i class="u" style="left:0px">C</i></div><div class="t" style="left:918px;top:422px;font-size:13px;line-height:15px;color:#141464"><i class="u" style="left:0px">A</i></div><div style="position:absolute;left:176px;top:444px;width:6px;height:1px;background:#7070a8"></div><div style="position:absolute;left:176px;top:447px;width:6px;height:1px;background:#7070a8"></div><div style="position:absolute;left:225px;top:444px;width:6px;height:1px;background:#7070a8"></div><div style="position:absolute;left:225px;top:447px;width:6px;height:1px;background:#7070a8"></div><div style="position:absolute;left:275px;top:444px;width:6px;height:1px;background:#7070a8"></div><div style="position:absolute;left:275px;top:447px;width:6px;height:1px;background:#7070a8"></div><div style="position:absolute;left:324px;top:444px;width:6px;height:1px;background:#7070a8"></div><div style="position:absolute;left:324px;top:447px;width:6px;height:1px;background:#7070a8"></div><div style="position:absolute;left:374px;top:444px;width:6px;height:1px;background:#7070a8"></div><div style="position:absolute;left:374px;top:447px;width:6px;height:1px;background:#7070a8"></div><div style="position:absolute;left:423px;top:444px;width:6px;height:1px;background:#7070a8"></div><div style="position:absolute;left:423px;top:447px;width:6px;height:1px;background:#7070a8"></div><div style="position:absolute;left:473px;top:444px;width:6px;height:1px;background:#7070a8"></div><div style="position:absolute;left:473px;top:447px;width:6px;height:1px;background:#7070a8"></div><div style="position:absolute;left:522px;top:444px;width:6px;height:1px;background:#7070a8"></div><div style="position:absolute;left:522px;top:447px;width:6px;height:1px;background:#7070a8"></div><div style="position:absolute;left:572px;top:444px;width:6px;height:1px;background:#7070a8"></div><div style="position:absolute;left:572px;top:447px;width:6px;height:1px;background:#7070a8"></div><div style="position:absolute;left:622px;top:444px;width:6px;height:1px;background:#7070a8"></div><div style="position:absolute;left:622px;top:447px;width:6px;height:1px;background:#7070a8"></div><div style="position:absolute;left:671px;top:444px;width:6px;height:1px;background:#7070a8"></div><div style="position:absolute;left:671px;top:447px;width:6px;height:1px;background:#7070a8"></div><div style="position:absolute;left:721px;top:444px;width:6px;height:1px;background:#7070a8"></div><div style="position:absolute;left:721px;top:447px;width:6px;height:1px;background:#7070a8"></div><div style="position:absolute;left:770px;top:444px;width:6px;height:1px;background:#7070a8"></div><div style="position:absolute;left:770px;top:447px;width:6px;height:1px;background:#7070a8"></div><div style="position:absolute;left:820px;top:444px;width:6px;height:1px;background:#7070a8"></div><div style="position:absolute;left:820px;top:447px;width:6px;height:1px;background:#7070a8"></div><div style="position:absolute;left:869px;top:444px;width:6px;height:1px;background:#7070a8"></div><div style="position:absolute;left:869px;top:447px;width:6px;height:1px;background:#7070a8"></div><div style="position:absolute;left:919px;top:444px;width:6px;height:1px;background:#7070a8"></div><div style="position:absolute;left:919px;top:447px;width:6px;height:1px;background:#7070a8"></div>
</div>
</body></html>
